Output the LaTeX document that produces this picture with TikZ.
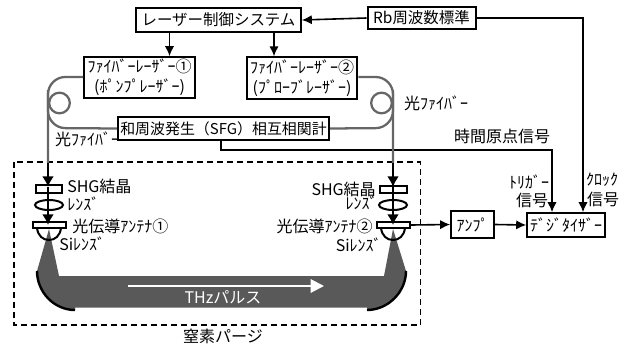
\documentclass[tikz,border=0pt]{standalone}
\usepackage{fontspec}
\setmainfont{Noto Sans CJK JP}
\usetikzlibrary{arrows.meta,positioning}
\tikzset{
  boxnode/.style={draw,line width=1.5pt,fill=white,inner sep=0pt,align=center,font=\fontsize{11.6}{15}\selectfont},
  label/.style={inner sep=0pt,font=\fontsize{12}{14}\selectfont},
  signal/.style={line width=1.2pt,-{Latex[length=7.5pt,width=7pt]}},
  fiber/.style={line width=1.7pt,color=black!60,rounded corners=13pt},
  beamarrow/.style={line width=2pt,-{Latex[length=8pt,width=9pt]}},
  optic/.style={line width=1.5pt},
  antenna/.style={draw,line width=1.5pt,minimum width=24.5pt,minimum height=4.5pt,inner sep=0pt},
  fiberloop/.style={circle,draw=black!60,line width=1.7pt,minimum size=15.5pt,inner sep=0pt},
}
\begin{document}
\begin{tikzpicture}[x=0.75pt,y=0.75pt,yscale=-1]
  \useasboundingbox (0,0) rectangle (631,347);

  % Purge box
  \draw[line width=1.3pt,dash pattern=on 4.5pt off 3pt] (14,162) rectangle (420.5,325);

  % THz beam
  \fill[color=black!65] (49,229) -- (37,271) .. controls (37,292) and (54,310) .. (75,310) -- (75,307.5) -- (367,307.5) -- (367,310) .. controls (388,310) and (406,292) .. (406,271) -- (393,229) -- (384,276) -- (59,276) -- cycle;
  % Mirrors
  \draw[line width=1.8pt] (37,271) .. controls (37,292) and (54,310) .. (75,310);
  \draw[line width=1.8pt] (406,271) .. controls (406,292) and (388,310) .. (367,310);
  \coordinate (thzA) at (128,286);
  \coordinate (thzB) at (324,286);
  \draw[color=white,line width=1.5pt,-{Triangle[length=10pt,width=10pt]}] (thzA) -- (thzB);
  \node[label,text=white] (thz) at (223,297) {THzパルス};

  % Boxes
  \node[boxnode,minimum width=123.5pt,minimum height=17.5pt] (ctrl) at (218.5,20) {レーザー制御システム};
  \node[boxnode,minimum width=81pt,minimum height=16.5pt] (rb) at (421.5,18) {Rb周波数標準};
  \node[boxnode,font=\fontsize{12}{15}\selectfont,minimum width=83pt,minimum height=30.5pt] (laserA) at (139.5,77.5) {ﾌｧｲﾊﾞｰﾚｰｻﾞｰ①\\(ﾎﾟﾝﾌﾟﾚｰｻﾞｰ)};
  \node[boxnode,font=\fontsize{12}{15}\selectfont,minimum width=83pt,minimum height=31pt] (laserB) at (302,78) {ﾌｧｲﾊﾞｰﾚｰｻﾞｰ②\\(ﾌﾟﾛｰﾌﾞﾚｰｻﾞｰ)};
  \node[boxnode,font=\fontsize{11.2}{15}\selectfont,minimum width=158pt,minimum height=17pt] (sfg) at (223.5,128.5) {和周波発生（SFG）相互相関計};
  \node[boxnode,font=\fontsize{12}{15}\selectfont,minimum width=32pt,minimum height=20pt] (amp) at (472.5,224.5) {ｱﾝﾌﾟ};
  \node[boxnode,font=\fontsize{12}{15}\selectfont,line width=1.2pt,minimum width=58.5pt,minimum height=18pt] (digi) at (566,225) {ﾃﾞｼﾞﾀｲｻﾞｰ};

  % Control lines
  \draw[signal] (ctrl.south -| laserA.north) ++(30,0) coordinate (ctrlA) -- (ctrlA |- laserA.north);
  \draw[signal] (ctrl.south -| laserB.north) ++(-28,0) coordinate (ctrlB) -- (ctrlB |- laserB.north);
  \draw[signal] (rb.west) -- (ctrl.east);
  \coordinate (clockX) at (583,18);
  \draw[signal] (rb.east) -- (clockX) -- (clockX |- digi.north);
  \coordinate (originA) at (221,150);
  \coordinate (originB) at (552,150);
  \draw[signal] (originA |- sfg.south) -- (originA) -- (originB) -- (originB |- digi.north);

  % Fibers
  \coordinate (fiberL) at (48,163);
  \coordinate (fiberR) at (393,163);
  \draw[fiber] (laserA.west |- 0,77) -- (48,77) -- (fiberL);
  \draw[fiber] (sfg.west) -- (48,128) -- (48,90);
  \draw[fiber] (laserB.east |- 0,77) -- (393,77) -- (fiberR);
  \draw[fiber] (sfg.east) -- (393,128) -- (393,90);
  \node[fiberloop] (loopL) at (59.5,103) {};
  \node[fiberloop] (loopR) at (381.5,103) {};

  % Optics left
  \coordinate (tipLa) at (48,187);
  \coordinate (tipLb) at (48,225);
  \draw[beamarrow] (fiberL) -- (tipLa);
  \draw[beamarrow] (tipLa) -- (tipLb);
  \draw[optic] (36,185) rectangle (62,193);
  \draw[optic] (49,205) ellipse (14 and 5);
  \node[antenna] (antL) at (49.5,225) {};
  \draw[optic] (37,228) .. controls (38,236) and (43,240) .. (49,240) .. controls (55,240) and (60,236) .. (61,228);

  % Optics right
  \coordinate (tipRa) at (393,187);
  \coordinate (tipRb) at (393,225);
  \draw[beamarrow] (fiberR) -- (tipRa);
  \draw[beamarrow] (tipRa) -- (tipRb);
  \draw[optic] (380,186) rectangle (407,193);
  \draw[optic] (393,205) ellipse (14 and 5);
  \node[antenna] (antR) at (393.5,225) {};
  \draw[optic] (381,228) .. controls (382,236) and (387,240) .. (393,240) .. controls (399,240) and (404,236) .. (405,228);

  % Signal to digitizer
  \draw[signal] (antR.east) -- (amp.west);
  \draw[signal] (amp.east) -- (digi.west);

  % Text Node
  \node[label] (fibTextL) at (87,139) {光ﾌｧｲﾊﾞｰ};
  \node[label] (fibTextR) at (436,103) {光ﾌｧｲﾊﾞｰ};
  \node[label] (origin) at (502,136) {時間原点信号};
  \node[label,anchor=west] (shgL) at (67,186) {SHG結晶};
  \node[label,anchor=east] (shgR) at (376,189) {SHG結晶};
  \node[label,anchor=west] (lensL) at (67,204) {ﾚﾝｽﾞ};
  \node[label,anchor=east] (lensR) at (378,203) {ﾚﾝｽﾞ};
  \node[label,anchor=west] (antTextL) at (72,226) {光伝導ｱﾝﾃﾅ①};
  \node[label,anchor=east] (antTextR) at (373,226) {光伝導ｱﾝﾃﾅ②};
  \node[label,anchor=west] (siL) at (59,244) {Siﾚﾝｽﾞ};
  \node[label,anchor=east] (siR) at (382,245) {Siﾚﾝｽﾞ};
  \node[label] (trigA) at (529,182) {ﾄﾘｶﾞｰ};
  \node[label] (trigB) at (532,200) {信号};
  \node[label] (clockA) at (602,180) {ｸﾛｯｸ};
  \node[label] (clockB) at (603,199) {信号};
  \node[label] (purge) at (223,336) {窒素パージ};
\end{tikzpicture}
\end{document}
